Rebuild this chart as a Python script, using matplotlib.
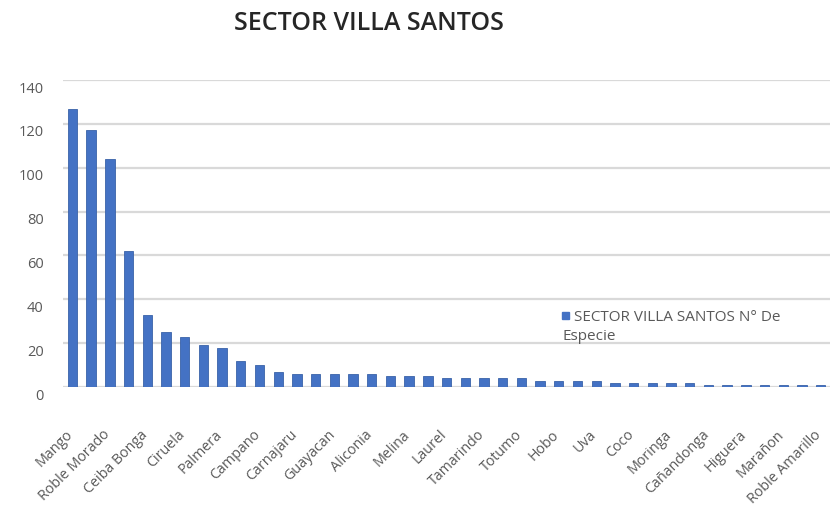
import numpy as np
import matplotlib
matplotlib.use("Agg")
import matplotlib.pyplot as plt
from matplotlib.transforms import ScaledTranslation
from matplotlib.patches import Rectangle
from matplotlib.legend_handler import HandlerPatch
from matplotlib.container import BarContainer

title = "SECTOR VILLA SANTOS"
series_name = "SECTOR VILLA SANTOS N° De\nEspecie"
values = [127, 117, 104, 62, 33, 25, 23, 19, 18, 12, 10, 7, 6, 6, 6, 6, 6,
          5, 5, 5, 4, 4, 4, 4, 4, 3, 3, 3, 3, 2, 2, 2, 2, 2, 1, 1, 1, 1, 1, 1, 1]
tick_labels = ["Mango", "Roble Morado", "Ceiba Bonga", "Ciruela", "Palmera",
               "Campano", "Carnajaru", "Guayacan", "Aliconia", "Melina",
               "Laurel", "Tamarindo", "Totumo", "Hobo", "Uva", "Coco",
               "Moringa", "Cañandonga", "Higuera", "Marañon", "Roble Amarillo"]
y_ticks = [0, 20, 40, 60, 80, 100, 120, 140]

plt.rcParams['font.family'] = ['Open Sans', 'DejaVu Sans']

fig = plt.figure(figsize=(8.3, 5.08), dpi=100)
ax = fig.add_axes([0.076, 0.238, 0.924, 0.6045])

BAR_COLOR = "#4472C4"
x = np.arange(len(values))
bars = ax.bar(x, values, width=0.5, color=BAR_COLOR, edgecolor="#3A62A8",
              linewidth=0.6, zorder=3)

ax.set_xlim(-0.5, len(values) - 0.5)
ax.set_ylim(0, 140)
ax.set_yticks(y_ticks)
ax.set_yticklabels([str(v) for v in y_ticks], fontsize=10.5, color="#595959")
ax.set_xticks(x[::2])
ax.set_xticklabels(tick_labels, rotation=45, ha="right", va="top",
                   rotation_mode="anchor", fontsize=10.3, color="#595959")
ax.tick_params(axis="y", length=0, pad=14)
ax.tick_params(axis="x", length=0, pad=29)
ax.grid(axis="y", color="#D9D9D9", linewidth=1.6, zorder=0)
for s in ax.spines.values():
    s.set_visible(False)

yshift = ScaledTranslation(0, -7 / 100, fig.dpi_scale_trans)
for lbl in ax.get_yticklabels():
    lbl.set_transform(lbl.get_transform() + yshift)
xshift = ScaledTranslation(-7 / 100, 0, fig.dpi_scale_trans)
for lbl in ax.get_xticklabels():
    lbl.set_transform(lbl.get_transform() + xshift)

fig.text(0.444, 0.953, title, ha="center", va="center", fontsize=18,
         fontweight="semibold", color="#262626")

LEG_FS = 11
LINE_SP = 1.4


def first_line_square(legend, orig_handle, xdescent, ydescent, width,
                      height, fontsize):
    side = 0.45 * fontsize
    return Rectangle((-xdescent, -ydescent + LINE_SP * fontsize * 0.62),
                     side, side)


def copy_props(legend_handle, orig_handle):
    legend_handle.set_facecolor(BAR_COLOR)
    legend_handle.set_edgecolor(BAR_COLOR)


leg = ax.legend([bars], ["   " + series_name], loc="upper left",
                bbox_to_anchor=(0.661, 0.417), bbox_transform=fig.transFigure,
                frameon=False, fontsize=LEG_FS, handlelength=0.6,
                handleheight=0.6, handletextpad=-0.6, labelcolor="#595959",
                handler_map={BarContainer: HandlerPatch(
                    patch_func=first_line_square, update_func=copy_props)})
for t in leg.get_texts():
    t.set_linespacing(LINE_SP)

fig.savefig("out.png", dpi=100)
